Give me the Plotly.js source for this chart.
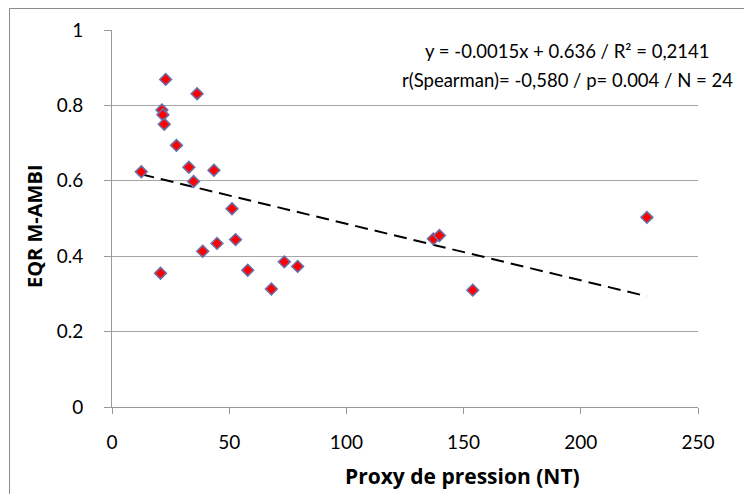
<!DOCTYPE html>
<html>
<head>
<meta charset="utf-8">
<script src="https://cdn.plot.ly/plotly-3.0.1.min.js"></script>
<style>
html,body{margin:0;padding:0;background:#fff;overflow:hidden;}
#chart{width:744px;height:494px;}
</style>
</head>
<body>
<div id="chart"></div>
<script>
// Data
var pressure = [12.5, 20.7, 21.3, 21.7, 22.3, 22.9, 27.5, 32.8, 34.8, 36.3, 38.7, 43.5, 44.8, 51.2, 52.7, 57.9, 68.0, 73.5, 79.2, 137.1, 139.7, 153.9, 228.2];
var eqr      = [0.624, 0.355, 0.788, 0.775, 0.750, 0.869, 0.694, 0.636, 0.598, 0.831, 0.413, 0.628, 0.434, 0.526, 0.444, 0.363, 0.313, 0.385, 0.373, 0.446, 0.455, 0.310, 0.503];
var trendSlope = -0.0015;
var trendIntercept = 0.636;
var xTicks = [0, 50, 100, 150, 200, 250];
var yTicks = [0, 0.2, 0.4, 0.6, 0.8, 1];
var yTickLabels = ['0', '0.2', '0.4', '0.6', '0.8', '1'];
var annotationLines = ['y = -0.0015x + 0.636 / R² = 0,2141', 'r(Spearman)= -0,580 / p= 0.004 / N = 24'];
var xTitle = 'Proxy de pression (NT)';
var yTitle = 'EQR M-AMBI';

var xMin = Math.min.apply(null, pressure), xMax = Math.max.apply(null, pressure);
var trendX = [xMin, xMax];
var trendY = trendX.map(function(v){ return trendSlope * v + trendIntercept; });

var FONT = 'Lato, "Open Sans", "Liberation Sans", sans-serif';
var TFONT = '"Open Sans", Lato, "Liberation Sans", sans-serif';
var L = 112, R = 46, T = 30, B = 87;
var W = 744 - L - R, H = 494 - T - B;
function px2x(p){ return (p - L) / W; }
function px2y(p){ return 1 - (p - T) / H; }

var traces = [
  {
    x: trendX, y: trendY, type: 'scatter', mode: 'lines',
    line: {color: '#000000', width: 2, dash: '13px,7px'},
    hoverinfo: 'skip', showlegend: false
  },
  {
    x: pressure, y: eqr, type: 'scatter', mode: 'markers',
    marker: {symbol: 'diamond', size: 9, color: '#ff0000', line: {color: '#6b6fa8', width: 1.6}},
    showlegend: false
  }
];

var layout = {
  width: 744, height: 494,
  margin: {l: L, r: R, t: T, b: B, pad: 0},
  paper_bgcolor: '#ffffff', plot_bgcolor: '#ffffff',
  font: {family: FONT, color: '#000000', size: 19},
  showlegend: false,
  xaxis: {
    range: [0, 250], tickvals: xTicks, ticktext: xTicks.map(String),
    showgrid: false, zeroline: false,
    showline: true, linecolor: '#999999', linewidth: 1,
    ticks: 'outside', ticklen: 6, tickcolor: '#999999', tickwidth: 1,
    ticklabelstandoff: 12,
    tickfont: {family: FONT, size: 19, color: '#000'},
    fixedrange: true
  },
  yaxis: {
    range: [0, 1], tickvals: yTicks, ticktext: yTickLabels,
    showgrid: true, gridcolor: '#a6a6a6', gridwidth: 1,
    zeroline: false,
    showline: true, linecolor: '#999999', linewidth: 1,
    ticks: 'outside', ticklen: 7, tickcolor: '#999999', tickwidth: 1,
    ticklabelstandoff: 17,
    tickfont: {family: FONT, size: 19, color: '#000'},
    fixedrange: true
  },
  annotations: [
    {xref: 'paper', yref: 'paper', x: px2x(567), y: px2y(51), xanchor: 'center', yanchor: 'middle',
     text: annotationLines[0], showarrow: false, font: {family: FONT, size: 18.5, color: '#000'}},
    {xref: 'paper', yref: 'paper', x: px2x(567), y: px2y(80), xanchor: 'center', yanchor: 'middle',
     text: annotationLines[1], showarrow: false, font: {family: FONT, size: 18.5, color: '#000'}},
    {xref: 'paper', yref: 'paper', x: px2x(462), y: px2y(476), xanchor: 'center', yanchor: 'middle',
     text: '<b>' + xTitle + '</b>', showarrow: false, font: {family: TFONT, size: 21, color: '#000'}},
    {xref: 'paper', yref: 'paper', x: px2x(34), y: px2y(226), xanchor: 'center', yanchor: 'middle',
     text: '<b>' + yTitle + '</b>', textangle: -90, showarrow: false, font: {family: TFONT, size: 20, color: '#000'}}
  ],
  shapes: [
    {type: 'rect', xref: 'paper', yref: 'paper', x0: px2x(9.5), x1: px2x(760), y0: px2y(8.5), y1: px2y(520),
     line: {color: '#8c8c8c', width: 1}, fillcolor: 'rgba(0,0,0,0)', layer: 'below'}
  ]
};

Plotly.newPlot('chart', traces, layout, {displayModeBar: false, staticPlot: true});
</script>
</body>
</html>
